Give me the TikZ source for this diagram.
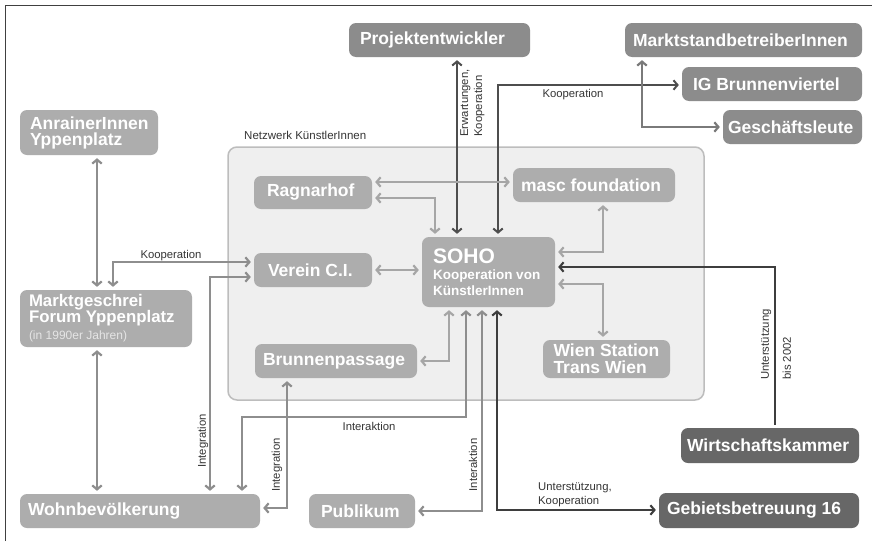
\documentclass[tikz,border=0pt]{standalone}
\usepackage{fontspec}
\setmainfont{Liberation Sans}
\usetikzlibrary{arrows.meta}
\definecolor{boxlight}{HTML}{ADADAD}
\definecolor{boxmid}{HTML}{8C8C8C}
\definecolor{boxdark}{HTML}{676767}
\definecolor{arrlight}{HTML}{A6A6A6}
\definecolor{arrmid}{HTML}{8E8E8E}
\definecolor{arrmid2}{HTML}{7A7A7A}
\definecolor{arrdark}{HTML}{4E4E4E}
\definecolor{arrdarker}{HTML}{3E3E3E}
\definecolor{lblcol}{HTML}{353535}
\definecolor{contfill}{HTML}{EFEFEF}
\definecolor{contborder}{HTML}{BDBDBD}
\definecolor{framecol}{HTML}{404040}
\begin{document}
\begin{tikzpicture}[x=1pt,y=-1pt,
  box/.style={rounded corners=7pt, text=white, inner ysep=0pt, align=flush left,
    font=\fontsize{17.5}{16}\selectfont\bfseries,
    execute at begin node={\hyphenpenalty=10000\exhyphenpenalty=10000\hbadness=10000\hfuzz=50pt}},
  lightbox/.style={box, fill=boxlight},
  midbox/.style={box, fill=boxmid},
  darkbox/.style={box, fill=boxdark},
  lbl/.style={text=lblcol, inner sep=0pt, align=left, font=\fontsize{11.3}{14}\selectfont},
  conn/.style={line width=2.2pt, >={Straight Barb[length=4pt,width=9.5pt]}, shorten <=3pt, shorten >=3pt},
  ltconn/.style={conn, draw=arrlight},
  mdconn/.style={conn, draw=arrmid},
  mdconntwo/.style={conn, draw=arrmid2},
  dkconn/.style={conn, draw=arrdark, line width=2pt},
  dkrconn/.style={conn, draw=arrdarker, line width=2.1pt}
]
\useasboundingbox (0,0) rectangle (872,541);
\fill[white] (0,0) rectangle (872,541);
% frame
\draw[framecol, line width=1.5pt] (5.5,541) -- (5.5,5.5) -- (872,5.5);

% container
\node[draw=contborder, fill=contfill, line width=1.5pt, rounded corners=9pt,
      minimum width=476pt, minimum height=253pt, inner sep=0pt] (net) at (466,273.5) {};
\node[lbl, anchor=base west, font=\fontsize{11.5}{14}\selectfont] (netlbl) at (244,139) {Netzwerk KünstlerInnen};

% boxes (text left aligned with padding)
\node[midbox, text width=159pt, inner xsep=11pt, minimum height=34pt] (proj) at (439.5,40) {Projektentwickler};
\node[midbox, text width=221pt, inner xsep=8pt, minimum height=34pt] (markt) at (743.5,40) {MarktstandbetreiberInnen};
\node[midbox, text width=158pt, inner xsep=11pt, minimum height=34pt] (ig) at (772,84) {IG~Brunnenviertel};
\node[midbox, text width=129pt, inner xsep=5pt, minimum height=34pt] (gesch) at (792.5,127) {Geschäftsleute};
\node[lightbox, text width=118pt, inner xsep=10pt, minimum height=45pt, font=\fontsize{17.5}{16}\selectfont\bfseries] (anr) at (89,132.5) {AnrainerInnen\\Yppenplatz};
\node[lightbox, text width=92pt, inner xsep=13pt, minimum height=33pt] (rag) at (313,192.5) {Ragnarhof};
\node[lightbox, text width=146pt, inner xsep=8pt, minimum height=34pt] (masc) at (594,185) {masc~foundation};
\node[lightbox, text width=90pt, inner xsep=14pt, minimum height=34pt] (verein) at (313,270) {Verein~C.I.};
\node[lightbox, text width=111pt, inner xsep=11pt, minimum height=70pt] (soho) at (488.5,272)
  {\fontsize{21}{21}\selectfont\bfseries SOHO\\\fontsize{13.5}{16}\selectfont\bfseries Kooperation~von\\\fontsize{13.5}{16}\selectfont\bfseries KünstlerInnen};
\node[lightbox, text width=146pt, inner xsep=8pt, minimum height=34pt] (brunn) at (336,361) {Brunnenpassage};
\node[lightbox, text width=106pt, inner xsep=10.5pt, minimum height=38pt, font=\fontsize{17.5}{17}\selectfont\bfseries] (wien) at (606.5,359) {Wien~Station\\Trans~Wien};
\node[lightbox, text width=154pt, inner xsep=9pt, minimum height=57pt, font=\fontsize{16.8}{16}\selectfont\bfseries] (mg) at (106,318.5)
  {Marktgeschrei\\Forum~Yppenplatz\\[1pt]\textcolor{white!90!black}{\fontsize{12}{14}\selectfont\mdseries (in~1990er~Jahren)}};
\node[lightbox, text width=224pt, inner xsep=8pt, minimum height=34pt] (wohn) at (140,511) {Wohnbevölkerung};
\node[lightbox, text width=82pt, inner xsep=12pt, minimum height=34pt] (pub) at (362,511) {Publikum};
\node[darkbox, text width=166pt, inner xsep=6pt, minimum height=35pt] (wk) at (770,445.5) {Wirtschaftskammer};
\node[darkbox, text width=184pt, inner xsep=8pt, minimum height=35pt] (gb) at (759,510.5) {Gebietsbetreuung~16};

% coordinates
\coordinate (c1) at (457,0);
\coordinate (c2) at (498,85);
\coordinate (c3) at (642,127);
\coordinate (c4) at (0,182);
\coordinate (c5) at (435,198);
\coordinate (c7) at (113,262);
\coordinate (c8) at (97,0);
\coordinate (c10) at (210,277);
\coordinate (c11a) at (242,417);
\coordinate (c11b) at (466,417);
\coordinate (c12) at (287,508);
\coordinate (c13) at (449,361);
\coordinate (c14) at (482,511);
\coordinate (c15) at (497,510);
\coordinate (c16) at (775,267);
\coordinate (c17) at (603,252);
\coordinate (c18) at (603,284);

% connectors
\draw[dkconn,<->] (proj.south -| c1) -- (soho.north -| c1);
\draw[dkconn,<->] (soho.north -| c2) -- (c2) -- (ig.west |- c2);
\draw[mdconntwo,<->] (markt.south -| c3) -- (c3) -- (gesch.west |- c3);
\draw[ltconn,<->] (rag.east |- c4) -- (masc.west |- c4);
\draw[ltconn,<->] (rag.east |- c5) -- (c5) -- (soho.north -| c5);
\draw[ltconn,<->] (verein.east) -- (soho.west |- verein.east);
\draw[mdconn,<->] (mg.north -| c7) -- (c7) -- (verein.west |- c7);
\draw[mdconn,<->] (anr.south -| c8) -- (mg.north -| c8);
\draw[mdconn,<->] (mg.south -| c8) -- (wohn.north -| c8);
\draw[mdconn,<->] (wohn.north -| c10) -- (c10) -- (verein.west |- c10);
\draw[mdconn,<->] (wohn.north -| c11a) -- (c11a) -- (c11b) -- (soho.south -| c11b);
\draw[mdconn,<->] (brunn.south -| c12) -- (c12) -- (wohn.east |- c12);
\draw[ltconn,<->] (brunn.east) -- (c13) -- (soho.south -| c13);
\draw[mdconn,<->] (pub.east) -- (c14) -- (soho.south -| c14);
\draw[dkrconn,<->] (soho.south -| c15) -- (c15) -- (gb.west |- c15);
\draw[dkrconn,->] (wk.north -| c16) -- (c16) -- (soho.east |- c16);
\draw[ltconn,<->] (soho.east |- c17) -- (c17) -- (masc.south -| c17);
\draw[ltconn,<->] (soho.east |- c18) -- (c18) -- (wien.north -| c18);

% labels
\node[lbl, rotate=90] (l1) at (472.5,103) {Erwartungen,\\Kooperation};
\node[lbl] (l2) at (573,95) {Kooperation};
\node[lbl] (l3) at (171,256) {Kooperation};
\node[lbl, rotate=90] (l4) at (203,441) {Integration};
\node[lbl, rotate=90] (l5) at (277,465) {Integration};
\node[lbl] (l6) at (369,426) {Interaktion};
\node[lbl, rotate=90] (l7) at (473,465) {Interaktion};
\node[lbl, anchor=west] (l8) at (538,494.5) {Unterstützung,\\Kooperation};
\node[lbl, rotate=90, font=\fontsize{11.3}{22}\selectfont] (l9) at (776,344.5) {Unterstützung\\bis 2002};
\end{tikzpicture}
\end{document}
